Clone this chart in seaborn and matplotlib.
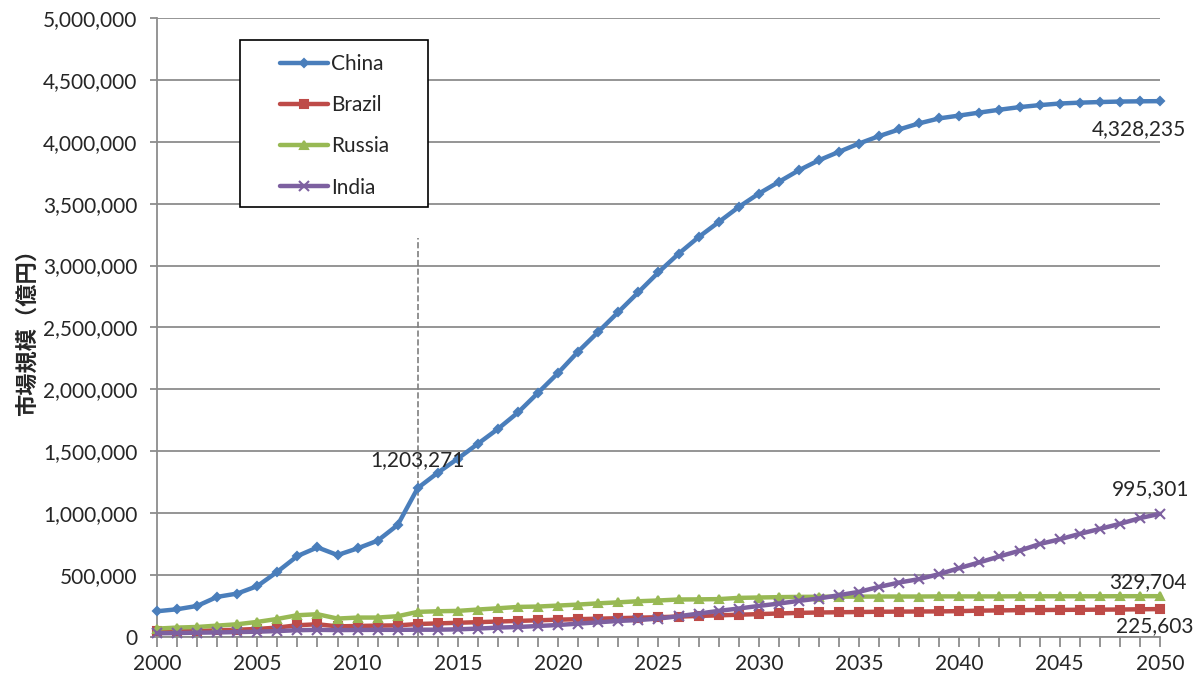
import numpy as np
import pandas as pd
import matplotlib
matplotlib.use('Agg')
import matplotlib.pyplot as plt
import matplotlib.ticker as mticker
from matplotlib.patches import Rectangle
import seaborn as sns

# data (億円)
years = list(range(2000, 2051))

china = [208000, 224000, 251000, 324000, 351000, 411000, 527000, 654000, 724000, 662000,
         716000, 778000, 905000, 1203271, 1327000, 1441000, 1561000, 1681000, 1814000, 1973000,
         2133000, 2306000, 2465000, 2625000, 2785000, 2946000, 3095000, 3230000, 3351000, 3473000,
         3581000, 3676000, 3770000, 3851000, 3919000, 3986000, 4046000, 4100000, 4149000, 4189000,
         4212000, 4236000, 4259000, 4280000, 4296000, 4309000, 4316000, 4321000, 4325000, 4327000,
         4328235]

brazil = [48000, 47000, 49000, 54000, 59000, 65000, 76000, 95000, 103000, 86000,
          89000, 92000, 94000, 105000, 110000, 115000, 120000, 125000, 130000, 135000,
          140000, 144000, 148000, 152000, 156000, 160000, 165000, 170000, 175000, 180000,
          185000, 190000, 195000, 198000, 200000, 202000, 204000, 205000, 206000, 207000,
          209000, 213000, 215000, 217000, 218000, 219000, 220000, 221000, 222000, 224000,
          225603]

russia = [68000, 76000, 81000, 92000, 103000, 122000, 146000, 176000, 184000, 149000,
          157000, 157000, 168000, 203000, 208000, 211000, 222000, 232000, 243000, 246000,
          254000, 262000, 272000, 280000, 289000, 295000, 303000, 304000, 306000, 316000,
          319000, 322000, 324000, 325000, 326000, 326000, 327000, 327000, 327000, 328000,
          328000, 328000, 328000, 329000, 329000, 329000, 329000, 329000, 329500, 329600,
          329704]

india = [30000, 32000, 35000, 37000, 40000, 43000, 48000, 55000, 58000, 56000,
         57000, 58000, 58000, 59000, 59000, 62000, 68000, 76000, 81000, 89000,
         97000, 108000, 119000, 130000, 137000, 149000, 168000, 189000, 211000, 230000,
         251000, 270000, 292000, 311000, 338000, 365000, 405000, 440000, 468000, 508000,
         557000, 603000, 651000, 697000, 751000, 789000, 833000, 873000, 914000, 960000,
         995301]

countries = ['China', 'Brazil', 'Russia', 'India']
colors = ['#4A7EBB', '#BE4B48', '#98B954', '#7D60A0']
markers = ['D', 's', '^', 'x']
msizes = [4, 6, 6, 7]

df = pd.DataFrame({'year': years, 'China': china, 'Brazil': brazil,
                   'Russia': russia, 'India': india})
long_df = df.melt(id_vars='year', var_name='country', value_name='value')

sns.set_style('white')
plt.rcParams['font.family'] = ['Lato', 'Noto Sans CJK JP', 'DejaVu Sans']
fs = 15

fig = plt.figure(figsize=(12.02, 6.81), dpi=100)
ax = fig.add_axes([0.1306, 0.0646, 0.8344, 0.909])

for name, c, m, ms in zip(countries, colors, markers, msizes):
    sub = long_df[long_df['country'] == name]
    sns.lineplot(data=sub, x='year', y='value', ax=ax, color=c, marker=m,
                 markersize=ms, markeredgecolor=c, markeredgewidth=1.5,
                 linewidth=3.2, label=name, clip_on=False, zorder=3)

# vertical dashed marker at 2013
ax.plot([2013, 2013], [0, 3220000], ls='--', color='#7f7f7f', lw=1.2, zorder=2)

# value labels
ax.annotate('1,203,271', (2013, 1203271), xytext=(0, 20), textcoords='offset points',
            ha='center', va='center', fontsize=fs)
ax.annotate('4,328,235', (2050, 4328235), xytext=(-15, -20), textcoords='offset points',
            ha='center', va='center', fontsize=fs, annotation_clip=False)
ax.annotate('995,301', (2050, 995301), xytext=(-7, 18), textcoords='offset points',
            ha='center', va='center', fontsize=fs, annotation_clip=False)
ax.annotate('329,704', (2050, 329704), xytext=(-9, 10), textcoords='offset points',
            ha='center', va='center', fontsize=fs, annotation_clip=False)
ax.annotate('225,603', (2050, 225603), xytext=(-4, -12), textcoords='offset points',
            ha='center', va='center', fontsize=fs, annotation_clip=False)

ax.set_xlim(2000, 2050)
ax.set_ylim(0, 5000000)
ax.xaxis.set_major_locator(mticker.MultipleLocator(5))
ax.xaxis.set_minor_locator(mticker.MultipleLocator(1))
ax.yaxis.set_major_locator(mticker.MultipleLocator(500000))
ax.yaxis.set_major_formatter(mticker.FuncFormatter(lambda v, p: f'{v:,.0f}'))

ax.grid(axis='y', color='#8c8c8c', lw=1.3)
ax.grid(axis='x', visible=False)
for s in ['top', 'right']:
    ax.spines[s].set_visible(False)
for s in ['left', 'bottom']:
    ax.spines[s].set_color('#8c8c8c')
    ax.spines[s].set_linewidth(1.3)

ax.tick_params(axis='both', which='both', direction='out', color='#8c8c8c', width=1.3)
ax.tick_params(axis='x', which='major', length=7, labelsize=fs, pad=5)
ax.tick_params(axis='x', which='minor', length=7)
ax.tick_params(axis='y', length=5, labelsize=fs, pad=9)
ax.tick_params(bottom=True, left=True, which='both')

ax.set_xlabel('')
ax.set_ylabel('市場規模（億円）', fontsize=16, fontweight='bold',
              family=['Noto Sans CJK JP', 'DejaVu Sans'], labelpad=3)

# legend box drawn separately so the entries can sit with a wide left margin
ax.add_patch(Rectangle((0.0828, 0.6947), 0.1874, 0.2698, transform=ax.transAxes,
                       facecolor='white', edgecolor='black', lw=1.2, zorder=4))
leg = ax.legend(loc='upper left', bbox_to_anchor=(0.1226, 0.942), fontsize=fs,
                frameon=False, handlelength=2.3, labelspacing=1.02, borderpad=0,
                handletextpad=0.15, borderaxespad=0)
leg.set_zorder(5)

fig.savefig('out.png', dpi=100)
